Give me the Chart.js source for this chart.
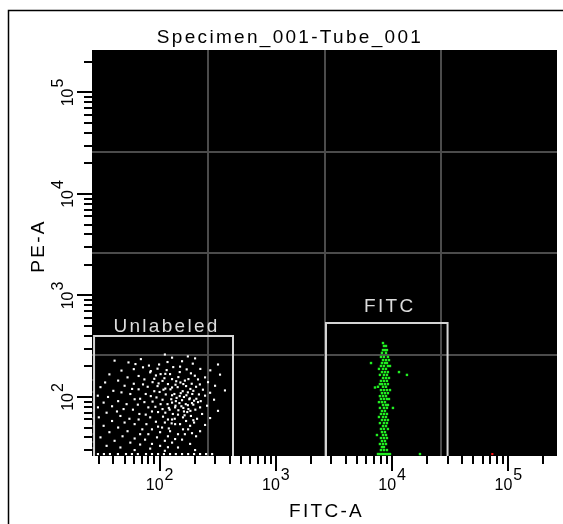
<!DOCTYPE html>
<html>
<head>
<meta charset="utf-8">
<script src="https://cdn.jsdelivr.net/npm/chart.js@4.4.1/dist/chart.umd.min.js"></script>
<style>
  html, body { margin: 0; padding: 0; background: #fff; }
  canvas { display: block; }
</style>
</head>
<body>
<canvas id="plot" width="563" height="524"></canvas>
<script>
// log display range (4 decades up to 2^18), same on both axes
const axisMin = 26.2144;
const axisMax = 262144;
const gridValues = [262.144, 2621.44, 26214.4];
const tickExponents = [2, 3, 4, 5];
const minorSteps = [2, 3, 4, 5, 6, 7, 8, 9];

const plotTitle = "Specimen_001-Tube_001";
const xTitle = "FITC-A";
const yTitle = "PE-A";

// rectangle gates
const gateNames = ["Unlabeled", "FITC"];
const gateXMin = [27.3, 2700];
const gateXMax = [428, 30000];
const gateYMin = [20, 20];
const gateYMax = [398, 536];

// events [FITC-A, PE-A]
const unlabeledEvents = [
  [111, 262], [202, 240], [175, 251],
  [41, 228], [69, 236], [156, 225], [128, 244],
  [54, 219], [62, 211], [117, 221], [193, 213],
  [81, 204], [318, 209], [99, 209],
  [72, 196], [96, 190], [131, 197], [224, 189], [150, 199],
  [47, 182], [60, 188], [84, 180], [171, 187], [273, 183], [115, 184],
  [83, 175], [112, 169], [149, 176], [102, 168], [186, 171],
  [37, 167], [66, 161], [123, 168], [201, 162], [331, 166], [93, 163],
  [53, 156], [90, 151], [145, 157], [177, 150], [246, 156], [110, 153],
  [44, 145], [74, 149], [106, 144], [128, 150], [165, 145], [214, 149], [139, 143],
  [34, 139], [60, 135], [87, 140], [118, 134], [151, 139], [189, 135], [261, 140], [98, 136],
  [50, 129], [72, 133], [96, 128], [137, 132], [169, 128], [222, 133], [300, 129], [160, 134],
  [31, 125], [58, 120], [79, 126], [112, 121], [143, 125], [184, 120], [206, 126], [128, 124],
  [40, 115], [66, 119], [90, 114], [124, 119], [158, 114], [236, 118], [365, 116], [195, 115], [108, 118],
  [47, 111], [76, 107], [100, 112], [134, 107], [175, 111], [218, 106], [272, 110], [152, 109],
  [29.4, 103], [56, 107], [84, 102], [113, 106], [149, 102], [191, 107], [246, 103], [170, 104], [128, 104],
  [36, 100], [68, 96], [94, 99], [126, 95], [162, 100], [207, 96], [140, 98], [182, 97],
  [44, 91], [61, 95], [87, 90], [106, 94], [138, 91], [180, 95], [226, 91], [294, 94], [156, 93], [198, 92],
  [33, 88], [52, 85], [74, 89], [102, 85], [128, 88], [168, 85], [214, 89], [148, 87], [190, 87],
  [39, 81], [65, 84], [92, 80], [117, 85], [154, 81], [195, 84], [256, 82], [137, 82], [175, 83],
  [29.5, 79], [49, 76], [80, 79], [106, 76], [136, 79], [177, 76], [223, 79], [160, 78], [120, 78],
  [43, 72], [59, 75], [86, 72], [122, 75], [162, 72], [203, 75], [318, 73], [145, 74], [184, 73],
  [35, 70], [67, 68], [97, 71], [130, 68], [173, 71], [232, 68], [112, 70],
  [46, 65], [76, 67], [107, 64], [144, 67], [186, 65], [164, 66],
  [30, 63], [55, 61], [83, 63], [118, 60], [159, 63], [210, 61], [272, 62], [135, 61],
  [39, 58], [66, 60], [93, 57], [128, 60], [169, 58], [195, 59],
  [50, 56], [77, 54], [111, 56], [150, 54], [198, 56], [127, 55],
  [33, 52], [61, 54], [97, 51], [136, 54], [183, 52], [246, 53],
  [44, 50], [71, 48], [105, 50], [159, 48], [120, 49],
  [53, 46], [86, 48], [123, 46], [176, 48], [223, 46],
  [37, 45], [68, 43], [101, 45], [144, 43], [190, 44],
  [48, 41], [80, 43], [118, 41], [165, 43], [206, 41],
  [31, 40], [61, 39], [95, 40], [136, 38.5],
  [41, 37], [75, 38], [111, 37], [156, 38],
  [56, 35.5], [86, 34.5], [128, 35.5], [183, 34.5],
  [35, 33], [68, 34], [101, 33],
  [46, 31.8], [83, 31], [144, 31.8], [118, 32],
  [61, 30], [111, 29.5], [202, 30],
  // piled up on the bottom edge
  [29.5, 27.4], [33.2, 27.4], [37.4, 27.4], [43.8, 27.4], [51.4, 27.4], [57.8, 27.4],
  [65, 27.4], [76.4, 27.4], [86, 27.4], [97, 27.4], [109, 27.4], [123, 27.4],
  [138, 27.4], [156, 27.4], [176, 27.4], [198, 27.4], [223, 27.4], [251, 27.4], [283, 27.4],
  // piled up on the left edge
  [27.2, 147], [27.2, 112], [27.2, 89], [27.2, 74], [27.2, 62],
  [27.2, 51.7], [27.2, 43], [27.2, 36], [27.2, 31.4]
];

const fitcEvents = [
  [8350, 340],
  [8510, 318], [8860, 318],
  [8350, 290], [8680, 290], [9030, 290],
  [8180, 272], [8860, 272],
  [8510, 248], [9210, 248], [8020, 248],
  [8350, 231], [8860, 231], [9400, 231],
  [8180, 216], [8680, 216], [9030, 216], [6585, 216],
  [8020, 202], [8510, 202], [9210, 202], [9590, 202],
  [8350, 189], [8860, 189], [7710, 189],
  [8180, 176], [8680, 176], [9210, 176], [11460, 176],
  [7860, 165], [8510, 165], [9030, 165], [13420, 165],
  [8350, 154], [8860, 154], [9400, 154],
  [8020, 144], [8510, 144], [9030, 144],
  [8180, 134], [8680, 134], [9210, 134], [7860, 134],
  [8350, 126], [8860, 126], [7560, 126], [7125, 124],
  [8020, 117], [8510, 117], [9030, 117], [9590, 117],
  [8180, 109], [8680, 109], [9210, 109],
  [7860, 102], [8350, 102], [8860, 102],
  [8020, 95.5], [8510, 95.5], [9030, 95.5], [9400, 95.5],
  [8180, 89], [8680, 89], [7710, 89],
  [8350, 83.4], [8860, 83.4], [9210, 83.4],
  [7860, 78], [8510, 78], [9030, 78], [10170, 78],
  [8180, 72.8], [8680, 72.8],
  [8020, 68], [8510, 68], [9030, 68],
  [8350, 63.5], [8860, 63.5], [7710, 63.5],
  [8180, 59.3], [8680, 59.3], [9210, 59.3],
  [7860, 55.3], [8510, 55.3], [9030, 55.3],
  [8350, 51.7], [8860, 51.7],
  [8020, 48.4], [8510, 48.4], [9210, 48.4],
  [8180, 45.1], [8680, 45.1],
  [8350, 42.2], [8860, 42.2], [7410, 42.2],
  [8020, 39.4], [8510, 39.4], [9030, 39.4],
  [8180, 36.8], [8680, 36.8],
  [8350, 34.4], [8860, 34.4], [7860, 34.4],
  [8180, 32.1], [8510, 32.1],
  [8020, 30], [8510, 30], [9030, 30],
  [7560, 27.4], [7860, 27.4], [8180, 27.4], [8510, 27.4],
  [8860, 27.4], [9210, 27.4], [9590, 27.4], [17370, 27.4]
];

const otherEvents = [[72800, 27.4]];

const textFont = '19px "Liberation Sans", Arial, sans-serif';
const tickFont = '16px "Liberation Sans", Arial, sans-serif';

function toPoints(rows) {
  return rows.map(r => ({ x: r[0], y: r[1] }));
}

function gateOutline(i) {
  return [
    { x: gateXMin[i], y: gateYMin[i] },
    { x: gateXMin[i], y: gateYMax[i] },
    { x: gateXMax[i], y: gateYMax[i] },
    { x: gateXMax[i], y: gateYMin[i] }
  ];
}

function logTicks() {
  const out = [];
  const lo = tickExponents[0] - 1;
  const hi = tickExponents[tickExponents.length - 1];
  for (let e = lo; e <= hi; e++) {
    [1].concat(minorSteps).forEach(m => {
      const v = m * Math.pow(10, e);
      if (v >= axisMin && v <= axisMax) out.push({ v: v, major: m === 1 });
    });
  }
  return out;
}

function drawPower(ctx, exp, cx, baseline) {
  const base = "10";
  const sup = String(exp);
  ctx.font = tickFont;
  ctx.letterSpacing = "0px";
  const wb = ctx.measureText(base).width;
  const ws = ctx.measureText(sup).width;
  const gap = 1;
  const start = cx - (wb + gap + ws) / 2;
  ctx.textAlign = "left";
  ctx.textBaseline = "alphabetic";
  ctx.fillText(base, start, baseline);
  ctx.fillText(sup, start + wb + gap, baseline - 10);
}

const cytoPlot = {
  id: "cytoPlot",
  beforeDatasetsDraw(chart) {
    const { ctx, chartArea: a, scales: { x, y } } = chart;
    ctx.save();
    ctx.fillStyle = "#000";
    ctx.fillRect(a.left, a.top, a.right - a.left, a.bottom - a.top);
    ctx.strokeStyle = "#4b4b4b";
    ctx.lineWidth = 2;
    ctx.beginPath();
    gridValues.forEach(v => {
      const px = Math.round(x.getPixelForValue(v));
      ctx.moveTo(px, a.top);
      ctx.lineTo(px, a.bottom);
      const py = Math.round(y.getPixelForValue(v));
      ctx.moveTo(a.left, py);
      ctx.lineTo(a.right, py);
    });
    ctx.stroke();
    ctx.restore();
  },
  afterDraw(chart) {
    const { ctx, chartArea: a, scales: { x, y } } = chart;
    const ticks = logTicks();
    ctx.save();

    // tick marks
    ctx.strokeStyle = "#000";
    ctx.lineWidth = 2;
    ctx.beginPath();
    ticks.forEach(t => {
      const len = t.major ? 15 : 8;
      const px = Math.round(x.getPixelForValue(t.v));
      ctx.moveTo(px, a.bottom);
      ctx.lineTo(px, a.bottom + len);
      const py = Math.round(y.getPixelForValue(t.v));
      ctx.moveTo(a.left, py);
      ctx.lineTo(a.left - len, py);
    });
    ctx.stroke();

    // decade labels
    ctx.fillStyle = "#000";
    tickExponents.forEach(e => {
      const v = Math.pow(10, e);
      drawPower(ctx, e, x.getPixelForValue(v), a.bottom + 34);
      ctx.save();
      ctx.translate(a.left - 19, y.getPixelForValue(v));
      ctx.rotate(-Math.PI / 2);
      drawPower(ctx, e, 0, 0);
      ctx.restore();
    });

    // titles
    ctx.font = textFont;
    ctx.letterSpacing = "2.3px";
    ctx.textAlign = "center";
    ctx.textBaseline = "alphabetic";
    ctx.fillText(plotTitle, 290, 43);
    ctx.fillText(xTitle, (a.left + a.right) / 2 + 2, 517);
    ctx.save();
    ctx.translate(44, 246);
    ctx.rotate(-Math.PI / 2);
    ctx.fillText(yTitle, 0, 0);
    ctx.restore();

    // gate names
    const lift = [4, 11];
    ctx.fillStyle = "#dcdcdc";
    gateNames.forEach((name, i) => {
      const cx = (x.getPixelForValue(gateXMin[i]) + x.getPixelForValue(gateXMax[i])) / 2;
      const top = y.getPixelForValue(gateYMax[i]);
      ctx.fillText(name, cx + 3, top - lift[i]);
    });

    // outer frame
    ctx.strokeStyle = "#000";
    ctx.lineWidth = 1.5;
    ctx.beginPath();
    ctx.moveTo(8.5, chart.height);
    ctx.lineTo(8.5, 10.5);
    ctx.lineTo(chart.width, 10.5);
    ctx.stroke();
    ctx.restore();
  }
};

const gateStyle = {
  showLine: true,
  borderColor: "#d4d4d4",
  borderWidth: 2,
  pointRadius: 0,
  fill: false,
  tension: 0,
  clip: 0
};

new Chart(document.getElementById("plot"), {
  type: "scatter",
  data: {
    datasets: [
      Object.assign({ label: gateNames[0], data: gateOutline(0) }, gateStyle),
      Object.assign({ label: gateNames[1], data: gateOutline(1) }, gateStyle),
      {
        label: "Unlabeled events",
        data: toPoints(unlabeledEvents),
        pointStyle: "rect",
        pointRadius: 1.5,
        pointBorderWidth: 0,
        pointBackgroundColor: "#ffffff"
      },
      {
        label: "FITC events",
        data: toPoints(fitcEvents),
        pointStyle: "rect",
        pointRadius: 1.7,
        pointBorderWidth: 0,
        pointBackgroundColor: "#22ee22"
      },
      {
        label: "Other events",
        data: toPoints(otherEvents),
        pointStyle: "rect",
        pointRadius: 1.5,
        pointBorderWidth: 0,
        pointBackgroundColor: "#ff1010"
      }
    ]
  },
  options: {
    responsive: false,
    animation: false,
    devicePixelRatio: 1,
    events: [],
    layout: { padding: { left: 92, right: 6, top: 50, bottom: 68 } },
    plugins: { legend: { display: false }, tooltip: { enabled: false }, title: { display: false } },
    scales: {
      x: { type: "logarithmic", min: axisMin, max: axisMax, display: false },
      y: { type: "logarithmic", min: axisMin, max: axisMax, display: false }
    }
  },
  plugins: [cytoPlot]
});
</script>
</body>
</html>
